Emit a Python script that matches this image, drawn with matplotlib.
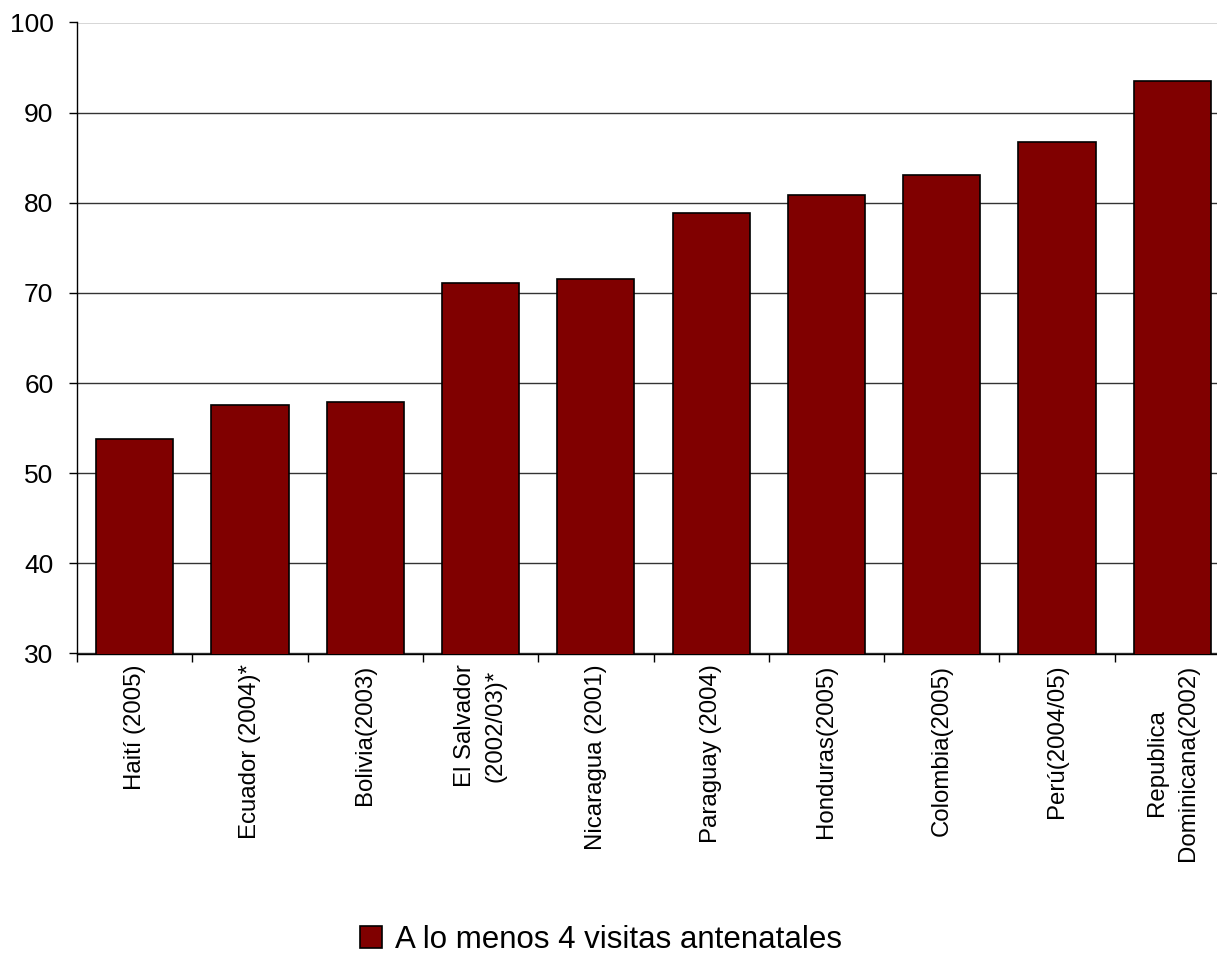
import matplotlib.pyplot as plt
import numpy as np

plt.rcParams['font.family'] = ['Liberation Sans', 'DejaVu Sans']

paises = ["Haití (2005)", "Ecuador (2004)*", "Bolivia(2003)", "El Salvador\n(2002/03)*",
          "Nicaragua (2001)", "Paraguay (2004)", "Honduras(2005)", "Colombia(2005)",
          "Perú(2004/05)", "Republica\nDominicana(2002)"]
visitas = [53.8, 57.6, 57.9, 71.1, 71.5, 78.9, 80.9, 83.1, 86.7, 93.5]
serie = "A lo menos 4 visitas antenatales"

W, H = 1217, 963
fig = plt.figure(figsize=(W / 100, H / 100), dpi=100)
# plot area runs a little past the right edge of the picture
ax = fig.add_axes([77 / W, 1 - 653.5 / H, (1230 - 77) / W, (653.5 - 22.5) / H])

x = np.arange(len(paises))
ax.bar(x, visitas, width=0.67, color="#800000", edgecolor="black", linewidth=1.2,
       label=serie, zorder=3)

ax.set_xlim(-0.5, len(paises) - 0.5)
ax.set_ylim(30, 100)
ax.set_yticks(np.arange(30, 101, 10))
ax.yaxis.grid(True, color="#333333", linewidth=1, zorder=0)
ax.tick_params(axis="y", labelsize=19, length=6, width=1, direction="out", pad=11)

ax.set_xticks(x)
ax.set_xticklabels(paises, rotation=90, fontsize=17.3, va="top", ha="center",
                   multialignment="center", linespacing=1.5)
ax.set_xticks(np.arange(-0.5, len(paises), 1), minor=True)
ax.tick_params(axis="x", which="major", length=0, pad=8)
ax.tick_params(axis="x", which="minor", length=6, width=1)

for s in ["top", "right"]:
    ax.spines[s].set_visible(False)
ax.spines["left"].set_linewidth(1)
ax.spines["bottom"].set_linewidth(1)

fig.legend(loc="center", bbox_to_anchor=(601 / W, 1 - 940 / H), frameon=False,
           fontsize=22.5, handlelength=0.7, handleheight=0.7, handletextpad=0.4)

fig.savefig("out.png", dpi=100)
